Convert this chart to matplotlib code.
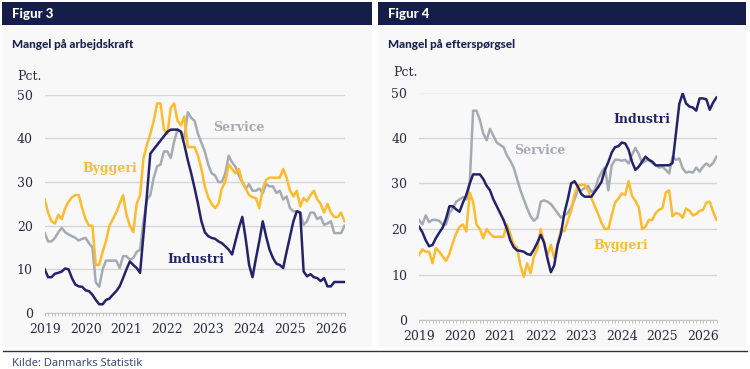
import numpy as np
import matplotlib
matplotlib.use("Agg")
import matplotlib.pyplot as plt
from matplotlib.patches import Rectangle
from matplotlib.lines import Line2D

W, H = 750, 369

years = ["2019", "2020", "2021", "2022", "2023", "2024", "2025", "2026"]
months = np.arange(89)  # jan 2019 .. maj 2026

# Figur 3 - Mangel paa arbejdskraft
arb_industri = [10, 8.2, 8.2, 9, 9.2, 9.5, 10.2, 10, 8, 6.5,
                6.1, 6, 5.2, 5, 4.2, 3, 2, 2, 3, 3.3,
                4.2, 5, 6.1, 8, 10, 11.8, 11, 10.3, 9.2, 18,
                27, 36.5, 37.5, 38.5, 39.5, 40.5, 41.5, 42, 42, 42,
                41.5, 38.5, 35, 32, 28.6, 25, 21, 18.5, 17.6, 17.2,
                17, 16.4, 16, 15.3, 14.5, 13.4, 16.5, 19.5, 22, 17,
                11, 8.2, 12.5, 16.5, 21, 17.5, 14.5, 12.6, 11.3, 11,
                10.3, 14, 17.5, 21, 23.3, 23, 9.5, 8.4, 8.9, 8.2,
                8, 7.3, 8, 6.1, 6.1, 7.1, 7.1, 7.1, 7.1]
arb_service = [18.3, 16.4, 16.4, 17.2, 18.5, 19.5, 18.5, 18, 17.6, 17.2,
               16.6, 17, 17.2, 16, 15, 7, 6, 10, 12, 12,
               12, 12, 10.3, 13, 13, 12.2, 12.6, 14, 14.5, 21,
               26, 27, 31, 33.6, 34, 37, 37, 35.5, 39.3, 42,
               41.6, 40, 46, 44.7, 44, 41, 39, 37, 34, 32,
               31.5, 30, 30, 32, 36, 34.5, 33.5, 31.5, 30, 28.5,
               29.5, 28, 28, 28.5, 27.5, 29.5, 29, 29, 27.5, 28,
               26, 26.7, 24, 23.3, 23.3, 23, 20.2, 21, 23, 23,
               21.5, 22, 20.2, 20.5, 21, 18.3, 18.3, 18.3, 20]
arb_byggeri = [26, 23, 21, 20.5, 22.5, 21.5, 24, 25.5, 26.5, 27,
               27, 24, 21.5, 20, 20, 11, 11, 14, 16.5, 20,
               21.5, 23, 25, 27, 22.5, 20, 18.5, 25, 27, 35.5,
               38.5, 41, 44, 48, 48, 42, 41, 47, 48, 44,
               43, 45, 38, 38, 38, 36, 33, 29, 26.5, 25,
               24, 25, 28.5, 30, 34, 33, 32, 33, 30, 28.5,
               27, 26.5, 26.3, 24, 28.5, 30.5, 31, 31, 31, 31,
               33, 31, 28, 26.7, 28, 24.4, 26.3, 25.6, 27, 28,
               26, 25, 23, 25, 23, 22, 22, 23, 21]

# Figur 4 - Mangel paa efterspoergsel
eft_industri = [20.5, 19.3, 17.5, 16.2, 16.5, 18, 19.2, 20.3, 22.3, 25,
                25, 24.3, 23.8, 25.8, 27.5, 30, 32, 32, 32, 31,
                29.5, 28.5, 26.5, 25, 23.5, 22, 20, 17.5, 16, 15.3,
                15.2, 15, 14.5, 14.3, 15.5, 17, 18.7, 17, 13.5, 10.5,
                12, 16.5, 19, 23.5, 26.5, 30, 30.5, 29.3, 27.7, 27.1,
                27.1, 27.1, 28.2, 29.2, 30.4, 33, 34.7, 36.8, 38, 38.2,
                39, 38.8, 37.4, 34.8, 33, 33.7, 34.8, 35.9, 35.2, 34.8,
                34, 34, 34, 34, 34, 34.5, 41, 47.5, 49.8, 47.6,
                46.9, 46.7, 46, 48.7, 48.7, 48.5, 46.2, 47.8, 48.9]
eft_service = [22, 21, 23, 21.5, 22, 22, 21.8, 21, 21, 23.5,
               24.5, 26, 26.5, 27, 26.5, 30, 46, 46, 44, 41,
               39.5, 42, 40.5, 39, 38.5, 38, 36.2, 35, 33.5, 31,
               28.5, 26.5, 24.5, 22.8, 21.8, 22.5, 26, 26.3, 26, 25.5,
               24.5, 23.5, 22.5, 23, 23.5, 24.7, 26.5, 28.7, 28.5, 29,
               29.5, 28.2, 28.5, 31, 32.5, 33.5, 28.5, 34, 35.2, 35.2,
               35, 35.2, 34.4, 36.3, 37.8, 36.5, 34.5, 35, 35.2, 34.5,
               34, 33.5, 33.7, 33, 32.2, 35.9, 35.2, 35.5, 33.3, 32.4,
               32.6, 32.4, 33.5, 32.6, 33.7, 34.4, 33.8, 34.5, 35.9]
eft_byggeri = [14.3, 15.5, 15, 15, 12.5, 15.8, 15, 14, 13, 14.5,
               17, 19, 20.5, 21, 19.5, 28, 26, 21, 20, 18,
               20, 19, 18.3, 18.3, 18.3, 18.3, 21, 19, 16.5, 16,
               12, 9.5, 12.5, 10.3, 14, 15.5, 20, 17, 14.3, 16.5,
               13.6, 16.5, 20, 19.5, 21.8, 24, 27.5, 29.5, 29.7, 29.7,
               28.5, 26.8, 25, 23.3, 21.3, 20, 20, 23, 25.8, 26.7,
               27.8, 27.5, 30.5, 27.3, 26.2, 24.8, 20, 20.5, 22, 22,
               23.5, 24.2, 24.6, 28, 28.5, 22.8, 23.5, 23.3, 22.5, 24.5,
               24, 23, 23.3, 24, 24.2, 25.8, 26, 23.8, 22]

NAVY = "#23236b"
YELLOW = "#fdbb2d"
GREY = "#a5abb2"
HEADER = "#151d4b"
PANEL = "#f8f8f8"
SERIF = "DejaVu Serif"


def fx(x):
    return x / W


def fy(y):
    return 1 - y / H


fig = plt.figure(figsize=(W / 100, H / 100), dpi=100)
fig.patch.set_facecolor("white")

panels = [
    dict(x0=2, x1=372, title="Figur 3", sub="Mangel på arbejdskraft",
         ax=(44.7, 344.5, 94.7, 313), pct=(17, 77),
         data=(arb_byggeri, arb_service, arb_industri),
         labels=[("Byggeri", 19, 33.2, YELLOW), ("Service", 57, 42.6, GREY),
                 ("Industri", 44.5, 12.3, NAVY)]),
    dict(x0=378, x1=746, title="Figur 4", sub="Mangel på efterspørgsel",
         ax=(419, 716.5, 92.5, 320), pct=(393, 73),
         data=(eft_byggeri, eft_service, eft_industri),
         labels=[("Service", 35.6, 37.2, GREY), ("Industri", 66, 44, NAVY),
                 ("Byggeri", 59.8, 16.3, YELLOW)]),
]

for p in panels:
    # baggrund og overskriftsbjaelke
    fig.add_artist(Rectangle((fx(p["x0"]), fy(347)), fx(p["x1"] - p["x0"]), fy(25) - fy(347),
                             transform=fig.transFigure, facecolor=PANEL, edgecolor="none", zorder=0))
    fig.add_artist(Rectangle((fx(p["x0"]), fy(25)), fx(p["x1"] - p["x0"]), fy(2.5) - fy(25),
                             transform=fig.transFigure, facecolor=HEADER, edgecolor="none", zorder=0))
    fig.text(fx(p["x0"] + 10.5), fy(14), p["title"], color="white", fontsize=9.5,
             fontweight="black", family="Lato", va="center", ha="left")
    fig.text(fx(p["x0"] + 10.5), fy(45), p["sub"], color="#1b2150", fontsize=8.5,
             fontweight="black", family="Lato", va="center", ha="left")

    left, right, top, bottom = p["ax"]
    ax = fig.add_axes([fx(left), fy(bottom), fx(right - left), fy(top) - fy(bottom)])
    ax.set_facecolor(PANEL)

    byg, ser, ind = p["data"]
    ax.plot(months, ser, color=GREY, lw=1.8, zorder=3)
    ax.plot(months, byg, color=YELLOW, lw=1.8, zorder=4)
    ax.plot(months, ind, color=NAVY, lw=1.8, zorder=5)

    ax.set_xlim(0, 88)
    ax.set_ylim(0, 50)
    ax.set_yticks(range(0, 51, 10))
    ax.set_xticks(np.arange(0, 85, 12))
    ax.set_xticklabels(years)
    ax.set_xticks(months, minor=True)
    ax.grid(axis="y", color="#d6d6d6", lw=1.0, zorder=1)
    ax.set_axisbelow(True)
    for s in ["top", "right", "left"]:
        ax.spines[s].set_visible(False)
    ax.spines["bottom"].set_color("#c4c4c4")
    ax.spines["bottom"].set_linewidth(0.8)
    ax.tick_params(axis="y", length=0, pad=8.5, labelsize=9, labelcolor="#2b2b45")
    ax.tick_params(axis="x", which="both", length=2.5, width=0.5, color="#b0b0b0",
                   pad=5, labelsize=9, labelcolor="#2b2b45")
    for lab in ax.get_xticklabels() + ax.get_yticklabels():
        lab.set_family(SERIF)

    for txt, mx, my, col in p["labels"]:
        ax.text(mx, my, txt, color=col, fontsize=9, fontweight="bold",
                family=SERIF, ha="center", va="center", zorder=6)

    fig.text(fx(p["pct"][0]), fy(p["pct"][1]), "Pct.", fontsize=9, family=SERIF,
             color="#2b2b45", ha="left", va="center")

fig.add_artist(Line2D([fx(3), fx(747)], [fy(350.5), fy(350.5)], transform=fig.transFigure,
                      color="#333333", lw=1))
fig.text(fx(12), fy(363), "Kilde: Danmarks Statistik", fontsize=8, family="Noto Sans",
         color="#3b4a7a", ha="left", va="center")

fig.savefig("out.png", dpi=100)
